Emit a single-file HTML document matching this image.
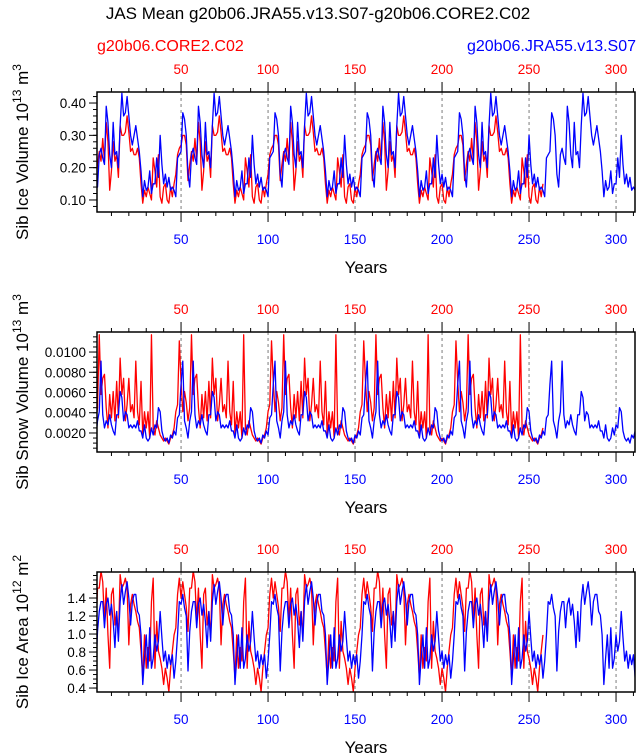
<!DOCTYPE html>
<html><head><meta charset="utf-8">
<style>
html,body{margin:0;padding:0;background:#fff;}
svg{display:block;font-family:"Liberation Sans",Arial,sans-serif;}
</style></head>
<body>
<svg id="chart" width="637" height="753" viewBox="0 0 637 753" xmlns="http://www.w3.org/2000/svg">
<text x="318" y="19" font-size="17" text-anchor="middle">JAS Mean g20b06.JRA55.v13.S07-g20b06.CORE2.C02</text>
<text x="97" y="51" font-size="16" fill="#ff0000">g20b06.CORE2.C02</text>
<text x="636" y="51" font-size="16" fill="#0000ff" text-anchor="end">g20b06.JRA55.v13.S07</text>
</svg>
<script>
const blueIce = [
0.18,0.14,0.24,0.26,0.23,0.21,0.39,0.34,0.24,0.20,0.34,0.24,0.25,0.20,0.33,0.43,0.36,0.37,0.42,0.36,0.30,0.27,0.30,0.33,0.29,0.25,0.19,0.11,0.16,0.13,0.14,0.19,0.12,0.15,0.15,0.23,0.17,0.30,0.21,0.15,0.18,0.14,0.17,0.13,0.14,0.13,0.11,0.23,0.24,0.25,0.37,0.35,0.30,
0.18,0.14,0.24,0.26,0.23,0.21,0.39,0.34,0.24,0.20,0.34,0.24,0.25,0.20,0.33,0.43,0.36,0.37,0.42,0.36,0.30,0.27,0.30,0.33,0.29,0.25,0.19,0.11,0.16,0.13,0.14,0.19,0.12,0.15,0.15,0.23,0.17,0.30,0.21,0.15,0.18,0.14,0.17,0.13,0.14,0.13,0.11,0.23,0.24,0.25,0.37,0.35,0.30,
0.18,0.14,0.24,0.26,0.23,0.21,0.39,0.34,0.24,0.20,0.34,0.24,0.25,0.20,0.33,0.43,0.36,0.37,0.42,0.36,0.30,0.27,0.30,0.33,0.29,0.25,0.19,0.11,0.16,0.13,0.14,0.19,0.12,0.15,0.15,0.23,0.17,0.30,0.21,0.15,0.18,0.14,0.17,0.13,0.14,0.13,0.11,0.23,0.24,0.25,0.37,0.35,0.30,
0.18,0.14,0.24,0.26,0.23,0.21,0.39,0.34,0.24,0.20,0.34,0.24,0.25,0.20,0.33,0.43,0.36,0.37,0.42,0.36,0.30,0.27,0.30,0.33,0.29,0.25,0.19,0.11,0.16,0.13,0.14,0.19,0.12,0.15,0.15,0.23,0.17,0.30,0.21,0.15,0.18,0.14,0.17,0.13,0.14,0.13,0.11,0.23,0.24,0.25,0.37,0.35,0.30,
0.18,0.14,0.24,0.26,0.23,0.21,0.39,0.34,0.24,0.20,0.34,0.24,0.25,0.20,0.33,0.43,0.36,0.37,0.42,0.36,0.30,0.27,0.30,0.33,0.29,0.25,0.19,0.11,0.16,0.13,0.14,0.19,0.12,0.15,0.15,0.23,0.17,0.30,0.21,0.15,0.18,0.14,0.17,0.13,0.14,0.13,0.11,0.23,0.24,0.25,0.37,0.35,0.30,
0.18,0.14,0.24,0.26,0.23,0.21,0.39,0.34,0.24,0.20,0.34,0.24,0.25,0.20,0.33,0.43,0.36,0.37,0.42,0.36,0.30,0.27,0.30,0.33,0.29,0.25,0.19,0.11,0.16,0.13,0.14,0.19,0.12,0.15,0.15,0.23,0.17,0.30,0.21,0.15,0.18,0.14,0.17,0.13,0.14,0.13];
const redIce = [
0.16,0.21,0.25,0.22,0.29,0.22,0.34,0.28,0.13,0.19,0.28,0.22,0.24,0.17,0.33,0.30,0.30,0.31,0.36,0.31,0.25,0.26,0.24,0.24,0.26,0.23,0.15,0.09,0.13,0.11,0.14,0.12,0.10,0.23,0.19,0.14,0.24,0.11,0.09,0.14,0.15,0.10,0.09,0.14,0.11,0.15,0.18,0.24,0.26,0.27,0.30,0.30,0.27,
0.16,0.21,0.25,0.22,0.29,0.22,0.34,0.28,0.13,0.19,0.28,0.22,0.24,0.17,0.33,0.30,0.30,0.31,0.36,0.31,0.25,0.26,0.24,0.24,0.26,0.23,0.15,0.09,0.13,0.11,0.14,0.12,0.10,0.23,0.19,0.14,0.24,0.11,0.09,0.14,0.15,0.10,0.09,0.14,0.11,0.15,0.18,0.24,0.26,0.27,0.30,0.30,0.27,
0.16,0.21,0.25,0.22,0.29,0.22,0.34,0.28,0.13,0.19,0.28,0.22,0.24,0.17,0.33,0.30,0.30,0.31,0.36,0.31,0.25,0.26,0.24,0.24,0.26,0.23,0.15,0.09,0.13,0.11,0.14,0.12,0.10,0.23,0.19,0.14,0.24,0.11,0.09,0.14,0.15,0.10,0.09,0.14,0.11,0.15,0.18,0.24,0.26,0.27,0.30,0.30,0.27,
0.16,0.21,0.25,0.22,0.29,0.22,0.34,0.28,0.13,0.19,0.28,0.22,0.24,0.17,0.33,0.30,0.30,0.31,0.36,0.31,0.25,0.26,0.24,0.24,0.26,0.23,0.15,0.09,0.13,0.11,0.14,0.12,0.10,0.23,0.19,0.14,0.24,0.11,0.09,0.14,0.15,0.10,0.09,0.14,0.11,0.15,0.18,0.24,0.26,0.27,0.30,0.30,0.27,
0.16,0.21,0.25,0.22,0.29,0.22,0.34,0.28,0.13,0.19,0.28,0.22,0.24,0.17,0.33,0.30,0.30,0.31,0.36,0.31,0.25,0.26,0.24,0.24,0.26,0.23,0.15,0.09,0.13,0.11,0.14,0.12,0.10,0.23,0.19,0.14,0.24,0.11,0.09,0.14,0.15,0.10,0.09,0.14,0.11,0.15];
const blueSnow = [
0.0015,0.0032,0.0041,0.0091,0.0038,0.0025,0.0032,0.0028,0.0038,0.0028,0.0022,0.0018,0.0038,0.0038,0.0061,0.0055,0.0032,0.0041,0.0038,0.0025,0.0028,0.0025,0.0028,0.0025,0.0032,0.0022,0.0022,0.0015,0.0028,0.0015,0.0012,0.0015,0.0025,0.0018,0.0028,0.0025,0.0045,0.0041,0.0022,0.0015,0.0012,0.0015,0.0010,0.0018,0.0015,0.0022,0.0018,0.0035,0.0038,0.0068,0.0091,0.0032,0.0025,
0.0015,0.0032,0.0041,0.0091,0.0038,0.0025,0.0032,0.0028,0.0038,0.0028,0.0022,0.0018,0.0038,0.0038,0.0061,0.0055,0.0032,0.0041,0.0038,0.0025,0.0028,0.0025,0.0028,0.0025,0.0032,0.0022,0.0022,0.0015,0.0028,0.0015,0.0012,0.0015,0.0025,0.0018,0.0028,0.0025,0.0045,0.0041,0.0022,0.0015,0.0012,0.0015,0.0010,0.0018,0.0015,0.0022,0.0018,0.0035,0.0038,0.0068,0.0091,0.0032,0.0025,
0.0015,0.0032,0.0041,0.0091,0.0038,0.0025,0.0032,0.0028,0.0038,0.0028,0.0022,0.0018,0.0038,0.0038,0.0061,0.0055,0.0032,0.0041,0.0038,0.0025,0.0028,0.0025,0.0028,0.0025,0.0032,0.0022,0.0022,0.0015,0.0028,0.0015,0.0012,0.0015,0.0025,0.0018,0.0028,0.0025,0.0045,0.0041,0.0022,0.0015,0.0012,0.0015,0.0010,0.0018,0.0015,0.0022,0.0018,0.0035,0.0038,0.0068,0.0091,0.0032,0.0025,
0.0015,0.0032,0.0041,0.0091,0.0038,0.0025,0.0032,0.0028,0.0038,0.0028,0.0022,0.0018,0.0038,0.0038,0.0061,0.0055,0.0032,0.0041,0.0038,0.0025,0.0028,0.0025,0.0028,0.0025,0.0032,0.0022,0.0022,0.0015,0.0028,0.0015,0.0012,0.0015,0.0025,0.0018,0.0028,0.0025,0.0045,0.0041,0.0022,0.0015,0.0012,0.0015,0.0010,0.0018,0.0015,0.0022,0.0018,0.0035,0.0038,0.0068,0.0091,0.0032,0.0025,
0.0015,0.0032,0.0041,0.0091,0.0038,0.0025,0.0032,0.0028,0.0038,0.0028,0.0022,0.0018,0.0038,0.0038,0.0061,0.0055,0.0032,0.0041,0.0038,0.0025,0.0028,0.0025,0.0028,0.0025,0.0032,0.0022,0.0022,0.0015,0.0028,0.0015,0.0012,0.0015,0.0025,0.0018,0.0028,0.0025,0.0045,0.0041,0.0022,0.0015,0.0012,0.0015,0.0010,0.0018,0.0015,0.0022,0.0018,0.0035,0.0038,0.0068,0.0091,0.0032,0.0025,
0.0015,0.0032,0.0041,0.0091,0.0038,0.0025,0.0032,0.0028,0.0038,0.0028,0.0022,0.0018,0.0038,0.0038,0.0061,0.0055,0.0032,0.0041,0.0038,0.0025,0.0028,0.0025,0.0028,0.0025,0.0032,0.0022,0.0022,0.0015,0.0028,0.0015,0.0012,0.0015,0.0025,0.0018,0.0028,0.0025,0.0045,0.0041,0.0022,0.0015,0.0012,0.0015,0.0010,0.0018,0.0015,0.0022];
const redSnow = [
0.0032,0.0045,0.0117,0.0058,0.0074,0.0078,0.0045,0.0025,0.0058,0.0035,0.0061,0.0032,0.0071,0.0035,0.0094,0.0058,0.0074,0.0032,0.0048,0.0074,0.0041,0.0048,0.0035,0.0091,0.0041,0.0028,0.0071,0.0018,0.0041,0.0025,0.0041,0.0015,0.0117,0.0025,0.0018,0.0032,0.0025,0.0018,0.0015,0.0012,0.0015,0.0012,0.0009,0.0015,0.0018,0.0025,0.0041,0.0048,0.0111,0.0071,0.0041,0.0061,0.0050,
0.0032,0.0045,0.0117,0.0058,0.0074,0.0078,0.0045,0.0025,0.0058,0.0035,0.0061,0.0032,0.0071,0.0035,0.0094,0.0058,0.0074,0.0032,0.0048,0.0074,0.0041,0.0048,0.0035,0.0091,0.0041,0.0028,0.0071,0.0018,0.0041,0.0025,0.0041,0.0015,0.0117,0.0025,0.0018,0.0032,0.0025,0.0018,0.0015,0.0012,0.0015,0.0012,0.0009,0.0015,0.0018,0.0025,0.0041,0.0048,0.0111,0.0071,0.0041,0.0061,0.0050,
0.0032,0.0045,0.0117,0.0058,0.0074,0.0078,0.0045,0.0025,0.0058,0.0035,0.0061,0.0032,0.0071,0.0035,0.0094,0.0058,0.0074,0.0032,0.0048,0.0074,0.0041,0.0048,0.0035,0.0091,0.0041,0.0028,0.0071,0.0018,0.0041,0.0025,0.0041,0.0015,0.0117,0.0025,0.0018,0.0032,0.0025,0.0018,0.0015,0.0012,0.0015,0.0012,0.0009,0.0015,0.0018,0.0025,0.0041,0.0048,0.0111,0.0071,0.0041,0.0061,0.0050,
0.0032,0.0045,0.0117,0.0058,0.0074,0.0078,0.0045,0.0025,0.0058,0.0035,0.0061,0.0032,0.0071,0.0035,0.0094,0.0058,0.0074,0.0032,0.0048,0.0074,0.0041,0.0048,0.0035,0.0091,0.0041,0.0028,0.0071,0.0018,0.0041,0.0025,0.0041,0.0015,0.0117,0.0025,0.0018,0.0032,0.0025,0.0018,0.0015,0.0012,0.0015,0.0012,0.0009,0.0015,0.0018,0.0025,0.0041,0.0048,0.0111,0.0071,0.0041,0.0061,0.0050,
0.0032,0.0045,0.0117,0.0058,0.0074,0.0078,0.0045,0.0025,0.0058,0.0035,0.0061,0.0032,0.0071,0.0035,0.0094,0.0058,0.0074,0.0032,0.0048,0.0074,0.0041,0.0048,0.0035,0.0091,0.0041,0.0028,0.0071,0.0018,0.0041,0.0025,0.0041,0.0015,0.0117,0.0025,0.0018,0.0032,0.0025,0.0018,0.0015,0.0012,0.0015,0.0012,0.0009,0.0015,0.0018,0.0025];
const blueArea = [
0.59,1.03,1.25,1.36,1.36,1.07,1.33,1.40,1.21,1.33,1.14,0.85,1.25,0.92,1.36,1.55,1.33,1.47,1.58,1.40,1.10,1.36,1.44,1.44,1.25,1.21,0.99,0.44,0.73,0.99,0.62,1.07,0.62,0.73,0.99,0.81,0.92,1.25,0.96,0.70,0.81,0.62,0.77,0.66,0.77,0.51,0.70,0.99,1.36,1.33,1.44,1.29,1.20,
0.59,1.03,1.25,1.36,1.36,1.07,1.33,1.40,1.21,1.33,1.14,0.85,1.25,0.92,1.36,1.55,1.33,1.47,1.58,1.40,1.10,1.36,1.44,1.44,1.25,1.21,0.99,0.44,0.73,0.99,0.62,1.07,0.62,0.73,0.99,0.81,0.92,1.25,0.96,0.70,0.81,0.62,0.77,0.66,0.77,0.51,0.70,0.99,1.36,1.33,1.44,1.29,1.20,
0.59,1.03,1.25,1.36,1.36,1.07,1.33,1.40,1.21,1.33,1.14,0.85,1.25,0.92,1.36,1.55,1.33,1.47,1.58,1.40,1.10,1.36,1.44,1.44,1.25,1.21,0.99,0.44,0.73,0.99,0.62,1.07,0.62,0.73,0.99,0.81,0.92,1.25,0.96,0.70,0.81,0.62,0.77,0.66,0.77,0.51,0.70,0.99,1.36,1.33,1.44,1.29,1.20,
0.59,1.03,1.25,1.36,1.36,1.07,1.33,1.40,1.21,1.33,1.14,0.85,1.25,0.92,1.36,1.55,1.33,1.47,1.58,1.40,1.10,1.36,1.44,1.44,1.25,1.21,0.99,0.44,0.73,0.99,0.62,1.07,0.62,0.73,0.99,0.81,0.92,1.25,0.96,0.70,0.81,0.62,0.77,0.66,0.77,0.51,0.70,0.99,1.36,1.33,1.44,1.29,1.20,
0.59,1.03,1.25,1.36,1.36,1.07,1.33,1.40,1.21,1.33,1.14,0.85,1.25,0.92,1.36,1.55,1.33,1.47,1.58,1.40,1.10,1.36,1.44,1.44,1.25,1.21,0.99,0.44,0.73,0.99,0.62,1.07,0.62,0.73,0.99,0.81,0.92,1.25,0.96,0.70,0.81,0.62,0.77,0.66,0.77,0.51,0.70,0.99,1.36,1.33,1.44,1.29,1.20,
0.59,1.03,1.25,1.36,1.36,1.07,1.33,1.40,1.21,1.33,1.14,0.85,1.25,0.92,1.36,1.55,1.33,1.47,1.58,1.40,1.10,1.36,1.44,1.44,1.25,1.21,0.99,0.44,0.73,0.99,0.62,1.07,0.62,0.73,0.99,0.81,0.92,1.25,0.96,0.70,0.81,0.62,0.77,0.66,0.77,0.51];
const redArea = [
1.03,1.51,1.51,1.70,1.58,1.14,1.51,0.99,0.62,1.44,1.51,1.10,1.25,0.96,1.66,1.51,1.55,1.62,1.51,0.88,1.33,1.44,1.33,1.25,1.14,1.07,0.81,0.51,0.99,0.62,0.85,0.70,1.36,1.62,0.62,1.14,0.81,0.73,0.62,0.44,0.62,0.51,0.36,0.62,0.81,0.99,1.07,1.44,1.62,1.40,1.58,1.44,1.30,
1.03,1.51,1.51,1.70,1.58,1.14,1.51,0.99,0.62,1.44,1.51,1.10,1.25,0.96,1.66,1.51,1.55,1.62,1.51,0.88,1.33,1.44,1.33,1.25,1.14,1.07,0.81,0.51,0.99,0.62,0.85,0.70,1.36,1.62,0.62,1.14,0.81,0.73,0.62,0.44,0.62,0.51,0.36,0.62,0.81,0.99,1.07,1.44,1.62,1.40,1.58,1.44,1.30,
1.03,1.51,1.51,1.70,1.58,1.14,1.51,0.99,0.62,1.44,1.51,1.10,1.25,0.96,1.66,1.51,1.55,1.62,1.51,0.88,1.33,1.44,1.33,1.25,1.14,1.07,0.81,0.51,0.99,0.62,0.85,0.70,1.36,1.62,0.62,1.14,0.81,0.73,0.62,0.44,0.62,0.51,0.36,0.62,0.81,0.99,1.07,1.44,1.62,1.40,1.58,1.44,1.30,
1.03,1.51,1.51,1.70,1.58,1.14,1.51,0.99,0.62,1.44,1.51,1.10,1.25,0.96,1.66,1.51,1.55,1.62,1.51,0.88,1.33,1.44,1.33,1.25,1.14,1.07,0.81,0.51,0.99,0.62,0.85,0.70,1.36,1.62,0.62,1.14,0.81,0.73,0.62,0.44,0.62,0.51,0.36,0.62,0.81,0.99,1.07,1.44,1.62,1.40,1.58,1.44,1.30,
1.03,1.51,1.51,1.70,1.58,1.14,1.51,0.99,0.62,1.44,1.51,1.10,1.25,0.96,1.66,1.51,1.55,1.62,1.51,0.88,1.33,1.44,1.33,1.25,1.14,1.07,0.81,0.51,0.99,0.62,0.85,0.70,1.36,1.62,0.62,1.14,0.81,0.73,0.62,0.44,0.62,0.51,0.36,0.62,0.81,0.99];
const xTickLabels = [50,100,150,200,250,300];
const iceTicks = ["0.10","0.20","0.30","0.40"];
const snowTicks = ["0.0020","0.0040","0.0060","0.0080","0.0100"];
const areaTicks = ["0.4","0.6","0.8","1.0","1.2","1.4"];

const NS = "http://www.w3.org/2000/svg";
const svg = document.getElementById('chart');
const X0 = 97, X1 = 635, YR0 = 1.7, YR1 = 310.9;
function xScale(yr){ return X0 + (yr - YR0) * (X1 - X0) / (YR1 - YR0); }
function mk(tag, attrs, parent){
  const e = document.createElementNS(NS, tag);
  for (const k in attrs) e.setAttribute(k, attrs[k]);
  (parent || svg).appendChild(e);
  return e;
}

const panels = [
  {key:'ice', top:92, bottom:212, vmin:0.0628, vmax:0.4341, ticks:iceTicks, minor:0.02, blue:blueIce, red:redIce,
   label:'Sib Ice Volume 10', sup1:'13', unit:' m', sup2:'3'},
  {key:'snow', top:332, bottom:452, vmin:0.00012, vmax:0.01198, ticks:snowTicks, minor:0.0005, blue:blueSnow, red:redSnow,
   label:'Sib Snow Volume 10', sup1:'13', unit:' m', sup2:'3'},
  {key:'area', top:572, bottom:692, vmin:0.356, vmax:1.689, ticks:areaTicks, minor:0.05, blue:blueArea, red:redArea,
   label:'Sib Ice Area 10', sup1:'12', unit:' m', sup2:'2'}
];

panels.forEach(function(p){
  const g = mk('g', {});
  
  
  function yScale(v){ return p.bottom - (v - p.vmin) * (p.bottom - p.top) / (p.vmax - p.vmin); }
  const clipId = 'clip-' + p.key;
  const cp = mk('clipPath', {id: clipId}, g);
  mk('rect', {x:X0, y:p.top, width:X1-X0, height:p.bottom-p.top}, cp);

  xTickLabels.forEach(function(t){
    const l = mk('line', {x1:xScale(t), x2:xScale(t), y1:p.top, y2:p.bottom, stroke:'#444', 'stroke-width':0.7, 'stroke-dasharray':'3,3'}, g);
    
    
  });

  [['red', p.red, '#ff0000'], ['blue', p.blue, '#0000ff']].forEach(function(s){
    let d = '';
    s[1].forEach(function(v, i){
      d += (i ? 'L' : 'M') + xScale(i + 1).toFixed(2) + ',' + yScale(v).toFixed(2);
    });
    const path = mk('path', {d:d, fill:'none', stroke:s[2], 'stroke-width':1.3, 'stroke-linejoin':'round', 'clip-path':'url(#' + clipId + ')'}, g);
    
    
  });

  const fr = mk('rect', {x:X0, y:p.top, width:X1-X0, height:p.bottom-p.top, fill:'none', stroke:'#000', 'stroke-width':1.5}, g);
  
  

  for (let yr = 10; yr <= 310; yr += 10){
    const major = yr % 50 === 0;
    const len = major ? 10 : 4;
    const x = xScale(yr);
    mk('line', {x1:x, x2:x, y1:p.top, y2:p.top - len, stroke:'#000', 'stroke-width':1}, g);
    mk('line', {x1:x, x2:x, y1:p.bottom, y2:p.bottom + len, stroke:'#000', 'stroke-width':1}, g);
  }
  xTickLabels.forEach(function(t){
    const tt = mk('text', {x:xScale(t), y:p.top - 18, 'font-size':13.5, 'text-anchor':'middle', fill:'#ff0000'}, g);
    tt.textContent = t;
    
    
    const tb = mk('text', {x:xScale(t), y:p.bottom + 32, 'font-size':13.5, 'text-anchor':'middle', fill:'#0000ff'}, g);
    tb.textContent = t;
    
    
  });

  const start = Math.ceil(p.vmin / p.minor) * p.minor;
  for (let v = start; v <= p.vmax + 1e-12; v += p.minor){
    const y = yScale(v);
    mk('line', {x1:X0, x2:X0 - 4, y1:y, y2:y, stroke:'#000', 'stroke-width':1}, g);
  }
  p.ticks.forEach(function(t){
    const y = yScale(parseFloat(t));
    mk('line', {x1:X0, x2:X0 - 8, y1:y, y2:y, stroke:'#000', 'stroke-width':1}, g);
    const tl = mk('text', {x:X0 - 11, y:y + 5, 'font-size':13.5, 'text-anchor':'end'}, g);
    tl.textContent = t;
    
    
  });

  const xt = mk('text', {x:366, y:p.bottom + 61, 'font-size':17, 'text-anchor':'middle'}, g);
  xt.textContent = 'Years';
  
  

  const cy = (p.top + p.bottom) / 2;
  const yt = mk('text', {x:0, y:0, 'font-size':17, 'text-anchor':'middle', transform:'translate(28,' + cy + ') rotate(-90)'}, g);
  
  
  const t1 = mk('tspan', {}, yt); t1.textContent = p.label;
  const t2 = mk('tspan', {dy:-7, 'font-size':12}, yt); t2.textContent = p.sup1;
  const t3 = mk('tspan', {dy:7}, yt); t3.textContent = p.unit;
  const t4 = mk('tspan', {dy:-7, 'font-size':12}, yt); t4.textContent = p.sup2;
});
</script>
</body></html>
